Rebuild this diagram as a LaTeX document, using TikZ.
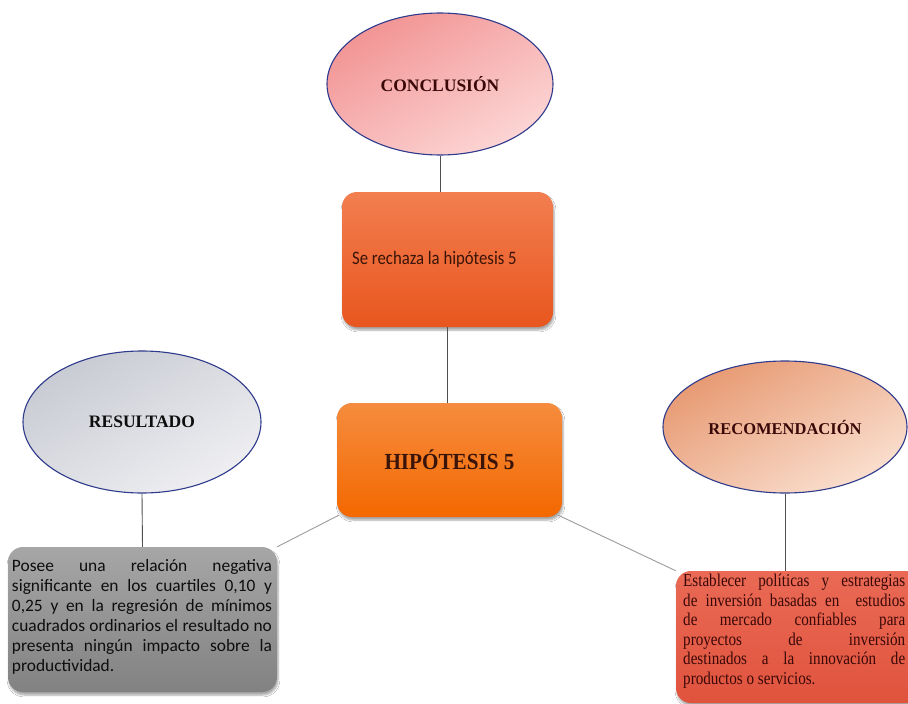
\documentclass[tikz,border=0pt]{standalone}
\usepackage{fontspec}
\setmainfont{Liberation Serif}
\newfontfamily\bodysans{Carlito}
\newfontfamily\carlitonarrow[FakeStretch=0.88]{Carlito}
\newfontfamily\serifnarrow[FakeStretch=0.84]{Liberation Serif}
\newfontfamily\headfont[FakeStretch=0.92]{Liberation Serif}
\usetikzlibrary{shapes.geometric,shadows.blur}

\definecolor{ovalborder}{HTML}{2E3A8C}
\definecolor{stemgray}{HTML}{505050}
\definecolor{spokegray}{HTML}{9C9C9C}
\definecolor{conclA}{HTML}{F29494}
\definecolor{conclB}{HTML}{FCD6D5}
\definecolor{resA}{HTML}{C8CBD3}
\definecolor{resB}{HTML}{EFEFF2}
\definecolor{recA}{HTML}{E79A73}
\definecolor{recB}{HTML}{FADFCF}
\definecolor{rejA}{HTML}{F27E50}
\definecolor{rejB}{HTML}{E8561E}
\definecolor{hipA}{HTML}{F58C3E}
\definecolor{hipB}{HTML}{F46800}
\definecolor{greyA}{HTML}{A6A6A6}
\definecolor{greyB}{HTML}{828282}
\definecolor{redA}{HTML}{EA6A55}
\definecolor{redB}{HTML}{E0533D}
\definecolor{inkmaroon}{HTML}{3A0808}
\definecolor{inkbrown}{HTML}{3A1408}
\definecolor{inkdark}{HTML}{0E0E0E}

\tikzset{
  oval/.style={ellipse, draw=ovalborder, line width=1.1pt, inner sep=0pt},
  card/.style={rectangle, rounded corners=15pt, inner sep=0pt,
    blur shadow={shadow xshift=1pt, shadow yshift=-3pt,
      shadow blur steps=6, shadow opacity=35}},
  stem/.style={draw=stemgray, line width=0.9pt},
  spoke/.style={draw=spokegray, line width=0.9pt},
}

\begin{document}
\begin{tikzpicture}[x=1pt, y=-1pt]
  \path[use as bounding box, fill=white] (0,0) rectangle (908,704);
  \clip (0,0) rectangle (908,704);

  % central column
  \node[oval, top color=conclA, bottom color=conclB, shading angle=30,
        minimum width=226, minimum height=142, text=inkmaroon,
        font=\bfseries\fontsize{17.5}{20}\selectfont]
        (concl) at (440,84) {CONCLUSIÓN};
  \node[card, top color=rejA, bottom color=rejB,
        minimum width=211, minimum height=135]
        (reject) at (447.5,259.5) {};
  \node[anchor=west, inner sep=0pt, text=inkbrown,
        font=\carlitonarrow\fontsize{19}{22}\selectfont]
        (rejecttext) at (352,259) {Se rechaza la hipótesis 5};
  \node[card, top color=hipA, bottom color=hipB,
        minimum width=225, minimum height=114,
        text=inkbrown, font=\headfont\bfseries\fontsize{23}{26}\selectfont]
        (hip) at (449.5,460) {HIPÓTESIS 5};

  % left branch
  \node[oval, top color=resA, bottom color=resB, shading angle=30,
        minimum width=238, minimum height=142, text=inkdark,
        font=\bfseries\fontsize{17.5}{20}\selectfont]
        (result) at (142,422) {RESULTADO};
  \node[card, top color=greyA, bottom color=greyB,
        minimum width=269, minimum height=145]
        (resbox) at (142.5,619.5) {};
  \node[inner sep=0pt, text width=260pt, align=justify, text=inkdark,
        font=\bodysans\fontsize{17.4}{20}\selectfont]
        (restext) at (142,617) {Posee una relación negativa\linebreak
        significante en los cuartiles 0,10 y\linebreak
        0,25 y en la regresión de mínimos\linebreak
        cuadrados ordinarios el resultado no\linebreak
        presenta ningún impacto sobre la\linebreak
        productividad.};

  % right branch
  \node[oval, top color=recA, bottom color=recB, shading angle=30,
        minimum width=244, minimum height=132, text=inkmaroon,
        font=\bfseries\fontsize{16.5}{20}\selectfont]
        (recom) at (785,427) {RECOMENDACIÓN};
  \node[card, top color=redA, bottom color=redB,
        minimum width=254, minimum height=132]
        (recbox) at (803,637) {};
  \node[anchor=north west, inner sep=0pt, text width=222pt, align=justify,
        text=inkmaroon, font=\serifnarrow\fontsize{18}{19.5}\selectfont]
        (rectext) at (683,574) {Establecer políticas y estrategias\linebreak
        de inversión basadas en~ estudios\linebreak
        de mercado confiables para\linebreak
        proyectos de inversión\linebreak
        destinados a la innovación de\linebreak
        productos o servicios.};

  % connectors
  \draw[stem] (concl.south) -- (concl.south |- reject.north);
  \draw[stem] (reject.south) -- (reject.south |- hip.north);
  \draw[stem] (result.south) -- (resbox.north);
  \draw[stem] (recom.south) -- (recom.south |- recbox.north);
  \draw[spoke] (hip.south west) ++(2,-2) -- (resbox.north east);
  \draw[spoke] (hip.south east) ++(-4,-2) -- (recbox.north west);
\end{tikzpicture}
\end{document}
